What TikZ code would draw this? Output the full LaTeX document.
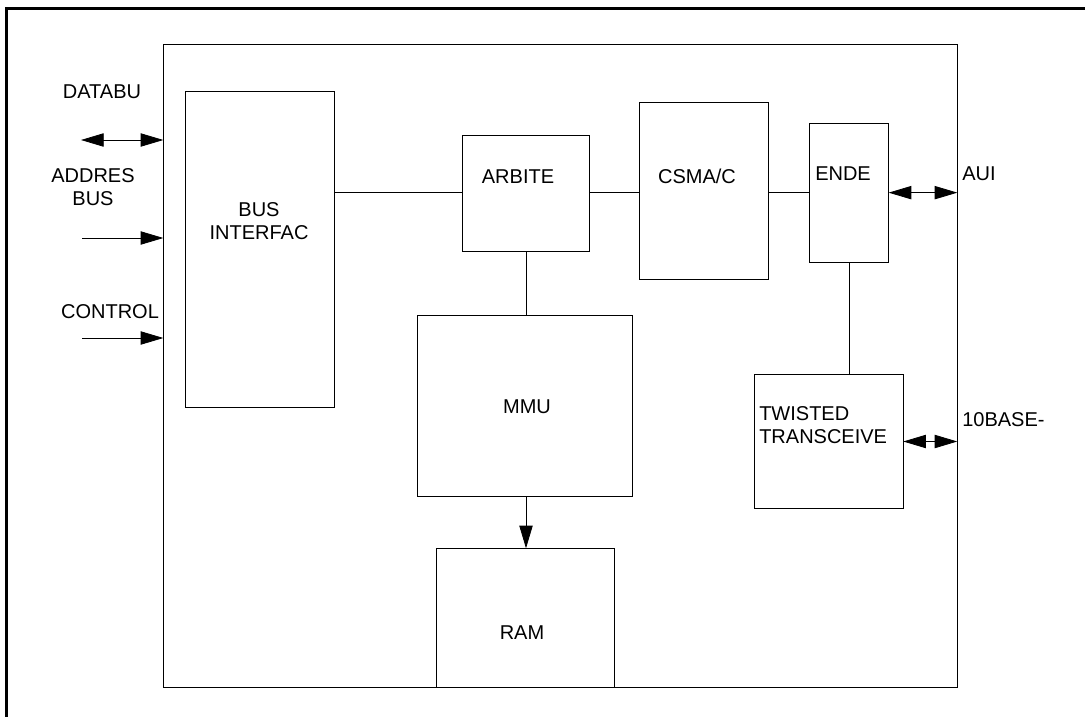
\documentclass[tikz,border=0pt]{standalone}
\usepackage{fontspec}
\setmainfont{Liberation Sans}
\usetikzlibrary{arrows.meta,fit}

\begin{document}
\begin{tikzpicture}[x=0.75pt, y=-0.75pt,
  box/.style={draw, line width=0.7pt, inner sep=0pt, outer sep=0pt},
  lbl/.style={inner sep=0pt, font=\fontsize{15}{17.25}\selectfont, align=center},
  wire/.style={line width=0.6pt},
  tip/.style={line width=0.6pt, -{Triangle[length=17pt, width=10pt]}},
  dtip/.style={line width=0.6pt, {Triangle[length=17pt, width=10pt]}-{Triangle[length=17pt, width=10pt]}}]
\useasboundingbox (0,0) rectangle (1085,717);
\draw[line width=2.25pt] (6.7,717) -- (6.7,8.7) -- (1085,8.7);

% chip and blocks
\node[box, fit={(163.3,44.3) (957.3,687.3)}] (chip) {};
\node[box, fit={(185.7,91) (334,407)}] (bif) {};
\node[box, fit={(462.7,135) (589.3,251)}] (arb) {};
\node[box, fit={(639,102) (768,279)}] (csma) {};
\node[box, fit={(809.3,123.3) (888.7,262)}] (ende) {};
\node[box, fit={(417.3,315) (632.3,496.7)}] (mmu) {};
\node[box, fit={(436,548.3) (614,687.3)}] (ram) {};
\node[box, fit={(754,374.7) (903.3,508.3)}] (tw) {};

% texts
\node[lbl] (tdata) at (102,91.5) {DATABU};
\node[lbl] (taddr) at (93,187) {ADDRES\\BUS};
\node[lbl] (tctrl) at (110,311.5) {CONTROL};
\node[lbl] (tbif) at (259,221.5) {BUS\\INTERFAC};
\node[lbl] (tarb) at (518,176.5) {ARBITE};
\node[lbl] (tcsma) at (697,176.5) {CSMA/C};
\node[lbl, anchor=west] (tende) at (815,174) {ENDE};
\node[lbl] (tmmu) at (527,407) {MMU};
\node[lbl] (tram) at (522,633) {RAM};
\node[lbl, anchor=west, align=left] (ttw) at (759,425.5) {TWISTED\\TRANSCEIVE};
\node[lbl, anchor=west] (taui) at (962,174) {AUI};
\node[lbl, anchor=west] (tbase) at (962,420) {10BASE-};

% bus inputs
\coordinate (din) at (81,140);
\coordinate (ain) at (82,238);
\coordinate (cin) at (82,338);
\draw[dtip] (din) -- (din -| chip.west);
\draw[tip] (ain) -- (ain -| chip.west);
\draw[tip] (cin) -- (cin -| chip.west);

% internal links
\draw[wire] (bif.east |- ende.east) -- (arb.west |- ende.east);
\draw[wire] (arb.east |- ende.east) -- (csma.west |- ende.east);
\draw[wire] (csma.east |- ende.east) -- (ende.west);
\draw[wire] (arb.south) -- (arb.south |- mmu.north);
\draw[tip] (mmu.south -| arb.south) -- (ram.north -| arb.south);
\draw[wire] (ende.south) -- (ende.south |- tw.north);
\draw[dtip] (ende.east) -- (ende.east -| chip.east);
\draw[dtip] (tw.east) -- (tw.east -| chip.east);
\end{tikzpicture}
\end{document}
